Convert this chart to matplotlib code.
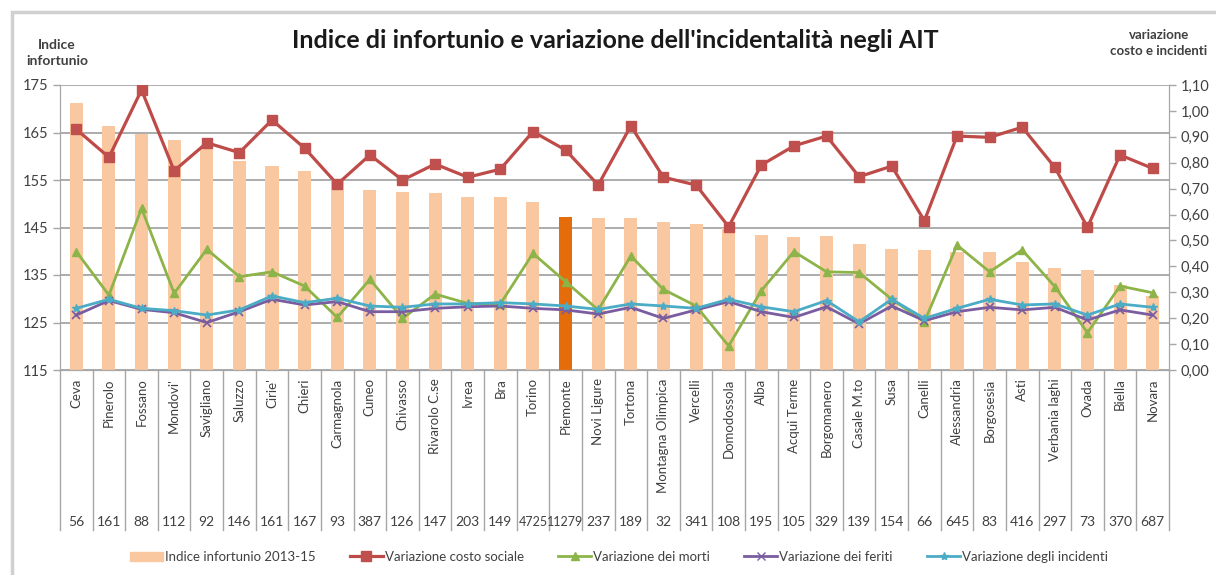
import matplotlib
matplotlib.use('Agg')
import matplotlib.pyplot as plt
from matplotlib.patches import Rectangle, Patch
from matplotlib.lines import Line2D
from matplotlib.ticker import FuncFormatter
import matplotlib.transforms as mtransforms

plt.rcParams['font.family'] = ['Lato', 'DejaVu Sans']

comuni = ['Ceva', 'Pinerolo', 'Fossano', "Mondovi'", 'Savigliano', 'Saluzzo', "Cirie'",
          'Chieri', 'Carmagnola', 'Cuneo', 'Chivasso', 'Rivarolo C.se', 'Ivrea', 'Bra',
          'Torino', 'Piemonte', 'Novi Ligure', 'Tortona', 'Montagna Olimpica', 'Vercelli',
          'Domodossola', 'Alba', 'Acqui Terme', 'Borgomanero', 'Casale M.to', 'Susa',
          'Canelli', 'Alessandria', 'Borgosesia', 'Asti', 'Verbania laghi', 'Ovada',
          'Biella', 'Novara']
numeri = [56, 161, 88, 112, 92, 146, 161, 167, 93, 387, 126, 147, 203, 149, 4725, 11279,
          237, 189, 32, 341, 108, 195, 105, 329, 139, 154, 66, 645, 83, 416, 297, 73, 370, 687]

indice = [171.3, 166.4, 164.7, 163.4, 162.0, 159.1, 158.0, 157.0, 155.0, 153.0, 152.4,
          152.2, 151.5, 151.5, 150.4, 147.3, 146.9, 146.9, 146.2, 145.7, 144.8, 143.4,
          143.1, 143.2, 141.5, 140.5, 140.3, 139.9, 139.8, 137.7, 136.4, 136.1, 133.0, 130.5]
costo = [0.929, 0.821, 1.081, 0.769, 0.877, 0.839, 0.965, 0.856, 0.717, 0.830, 0.733,
         0.795, 0.744, 0.775, 0.920, 0.849, 0.714, 0.942, 0.744, 0.714, 0.553, 0.791,
         0.865, 0.903, 0.746, 0.787, 0.576, 0.903, 0.898, 0.937, 0.782, 0.551, 0.830, 0.778]
morti = [0.457, 0.289, 0.624, 0.296, 0.466, 0.360, 0.379, 0.324, 0.203, 0.350, 0.199,
         0.293, 0.257, 0.255, 0.450, 0.341, 0.232, 0.440, 0.311, 0.247, 0.093, 0.306,
         0.457, 0.379, 0.376, 0.273, 0.186, 0.482, 0.379, 0.463, 0.322, 0.144, 0.324, 0.298]
feriti = [0.212, 0.268, 0.234, 0.221, 0.183, 0.225, 0.273, 0.251, 0.264, 0.225, 0.225,
          0.238, 0.244, 0.247, 0.238, 0.232, 0.216, 0.242, 0.199, 0.232, 0.264, 0.225,
          0.203, 0.244, 0.178, 0.247, 0.190, 0.225, 0.242, 0.232, 0.242, 0.193, 0.232, 0.212]
incidenti = [0.238, 0.273, 0.238, 0.229, 0.212, 0.232, 0.286, 0.260, 0.277, 0.247, 0.242,
             0.255, 0.255, 0.260, 0.255, 0.247, 0.234, 0.255, 0.247, 0.238, 0.273, 0.244,
             0.225, 0.268, 0.186, 0.273, 0.199, 0.238, 0.273, 0.251, 0.255, 0.212, 0.255, 0.242]

c_bar = '#FAC8A0'
c_piem = '#E46C0A'
c_red = '#BE4B48'
c_green = '#8DB449'
c_purple = '#7A5CA0'
c_cyan = '#4BACC6'
c_grid = '#A6A6A6'
c_text = '#404040'

fig = plt.figure(figsize=(12.16, 5.75), dpi=100)
ax = fig.add_axes([60/1216, 1-370/575, 1109/1216, 285/575])
ax2 = ax.twinx()

x = list(range(len(comuni)))
colori = [c_piem if c == 'Piemonte' else c_bar for c in comuni]
ax.bar(x, [v - 115 for v in indice], bottom=115, width=0.4, color=colori, zorder=2)
ax.set_ylim(115, 175)
ax.set_xlim(-0.5, len(comuni) - 0.5)
ax.set_yticks(range(115, 176, 10))
ax.yaxis.grid(True, color=c_grid, lw=1.3, zorder=0)
ax.set_axisbelow(True)

ax2.plot(x, costo, color=c_red, lw=2.3, marker='s', ms=7, mfc='#C0504D', mec='#C0504D')
ax2.plot(x, morti, color=c_green, lw=2.0, marker='^', ms=6)
ax2.plot(x, feriti, color=c_purple, lw=2.0, marker='x', ms=5.5, mew=1.2)
ax2.plot(x, incidenti, color=c_cyan, lw=2.0, marker='*', ms=6)
ax2.set_ylim(0, 1.10)
ax2.set_yticks([i / 10 for i in range(12)])
ax2.yaxis.set_major_formatter(FuncFormatter(lambda v, p: f'{v:.2f}'.replace('.', ',')))

for a in (ax, ax2):
    for s in a.spines.values():
        s.set_color(c_grid)
    a.spines['top'].set_visible(False)
    a.tick_params(colors=c_grid, labelcolor=c_text, labelsize=10.5, length=5, width=1)

ax.set_xticks(x)
ax.set_xticklabels(comuni, rotation=90, fontsize=9.5, color=c_text)
ax.tick_params(axis='x', length=0, pad=6)

trans = mtransforms.blended_transform_factory(ax.transData, ax.transAxes)
for i, n in enumerate(numeri):
    ax.text(i, -0.533, str(n), transform=trans, ha='center', va='center',
            fontsize=9 if n > 1000 else 10, color=c_text)
for i in range(len(comuni) + 1):
    ax.add_line(Line2D([i - 0.5, i - 0.5], [0, -0.561], transform=trans,
                       color=c_grid, lw=1, clip_on=False))

fig.text(615/1216, 1-41/575, "Indice di infortunio e variazione dell'incidentalità negli AIT",
         ha='center', va='center', fontsize=18, fontweight='bold', color='#1a1a1a')
fig.text(57/1216, 1-53/575, 'Indice\ninfortunio', ha='center', va='center',
         fontsize=10, fontweight='bold', color=c_text, linespacing=1.35)
fig.text(1159/1216, 1-43/575, 'variazione\ncosto e incidenti', ha='center', va='center',
         fontsize=9.5, fontweight='bold', color=c_text, linespacing=1.45)

fig.patches.append(Rectangle((12/1216, -0.1), 1.2, 1.1 - 12/575, transform=fig.transFigure,
                             fill=False, edgecolor='#D0D0D0', lw=2.5))

handles = [Patch(color=c_bar),
           Line2D([], [], color=c_red, lw=2.3, marker='s', ms=7, mfc='#C0504D', mec='#C0504D'),
           Line2D([], [], color=c_green, lw=2.0, marker='^', ms=6),
           Line2D([], [], color=c_purple, lw=2.0, marker='x', ms=5.5),
           Line2D([], [], color=c_cyan, lw=2.0, marker='*', ms=6)]
labels = ['Indice infortunio 2013-15', 'Variazione costo sociale', 'Variazione dei morti',
          'Variazione dei feriti', 'Variazione degli incidenti']
leg = fig.legend(handles, labels, loc='center', bbox_to_anchor=(619/1216, 1-557/575), ncol=5,
                 frameon=False, fontsize=9.5, handlelength=2.5, columnspacing=2.6,
                 handletextpad=0.15)
for t in leg.get_texts():
    t.set_color(c_text)

fig.savefig('out.png', dpi=100)
